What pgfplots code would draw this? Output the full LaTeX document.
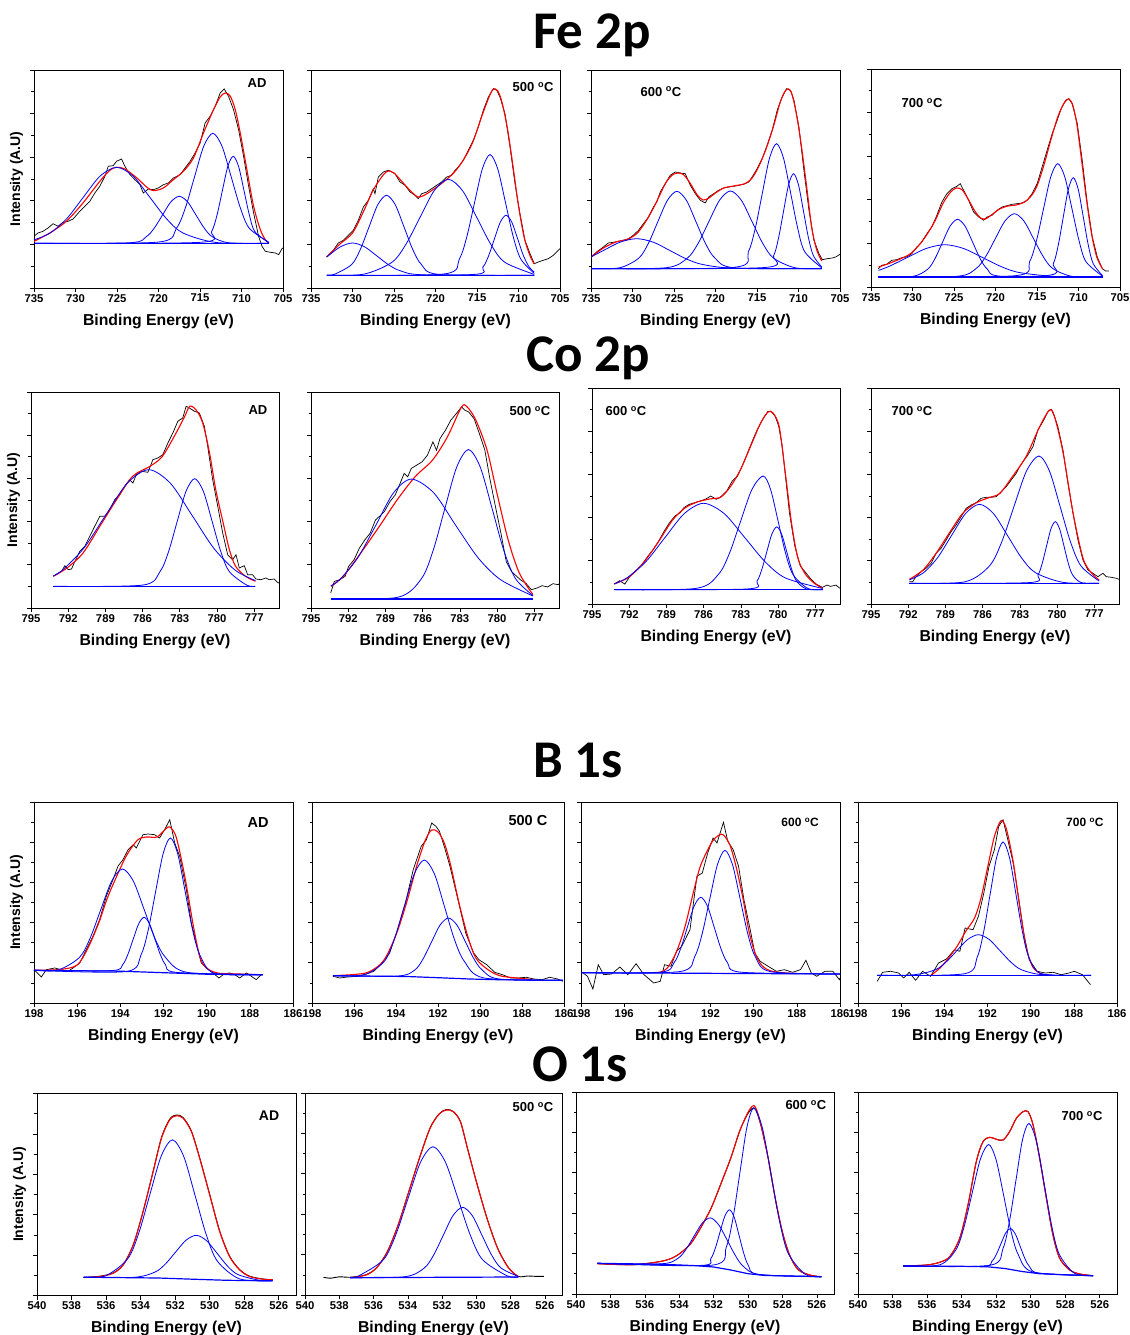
\documentclass[border=0pt]{standalone}
\usepackage{fontspec}
\setmainfont{Liberation Sans}
\newfontfamily\titlefont{Carlito}
\usepackage{pgfplots}
\pgfplotsset{compat=1.18}
\pgfplotsset{
  xps/.style={scale only axis, x dir=reverse, ymin=0, tick pos=left, tick align=outside,
    yticklabels={}, minor y tick num=1, major tick length=4pt, minor tick length=2.5pt,
    axis line style={line width=0.7pt, black}, every tick/.style={black, line width=0.6pt},
    xticklabel style={font=\bfseries\fontsize{11.3}{12}\selectfont, inner sep=2pt},
    /pgf/number format/assume math mode=true, /pgf/number format/1000 sep={},
    xlabel={Binding Energy (eV)},
    xlabel style={font=\bfseries\fontsize{15.8}{17}\selectfont, at={(axis description cs:0.5,0)}, anchor=center, yshift=-33pt},
    ylabel style={font=\bfseries\fontsize{14}{16}\selectfont, at={(axis description cs:0,0.5)}, anchor=center, yshift=17.5pt},
    clip=true, anchor=south west},
  fe/.style={xps, width=249pt, height=218pt, xmin=705, xmax=735, ymax=218, xtick={705,710,...,735}, ytick distance=43.6},
  co/.style={xps, width=248pt, height=216pt, xmin=775, xmax=795, ymax=216, xtick={777,780,...,795}, ytick distance=43.2},
  bo/.style={xps, width=259pt, height=201pt, xmin=186, xmax=198, ymax=201, xtick={186,188,...,198}, ytick distance=40.2},
  ox/.style={xps, width=258pt, height=202pt, xmin=525, xmax=540, ymax=202, xtick={526,528,...,540}, ytick distance=40.4},
  blk/.style={black, line width=0.7pt, no marks},
  blks/.style={black, line width=0.9pt, no marks, smooth},
  fit/.style={red, line width=1.1pt, smooth, no marks},
  pk/.style={blue, line width=0.8pt, smooth, no marks},
  bl/.style={blue, line width=1.2pt, no marks},
}
\tikzset{lbl/.style={font=\bfseries\fontsize{13}{15}\selectfont, inner sep=0pt},
  ttl/.style={font=\titlefont\bfseries\fontsize{53}{60}\selectfont, inner sep=0pt}}
\begin{document}
\begin{tikzpicture}
\useasboundingbox (0,0) rectangle (1129pt,1335pt);
\node[ttl] at (592pt,1300pt) {Fe 2p};
\node[ttl] at (588pt,977pt) {Co 2p};
\node[ttl] at (578pt,575pt) {B 1s};
\node[ttl] at (580pt,271pt) {O 1s};

% ---------------- Fe AD
\begin{axis}[fe, at={(34pt,1047pt)}, ylabel={Intensity (A.U)}]
\addplot[blk] coordinates {(735.0,51.7) (734.52,55.0) (733.91,56.7) (733.31,60.0) (732.70,64.3) (732.10,61.7) (731.50,65.7) (730.89,66.7) (730.29,69.0) (729.48,76.7) (728.88,81.7) (728.27,86.7) (727.67,95.0) (727.07,101.7) (726.46,111.7) (726.06,121.7) (725.46,122.3) (725.05,126.7) (724.45,129.0) (724.05,121.7) (723.44,113.3) (722.84,108.3) (722.23,103.3) (721.83,95.0) (721.23,99.0) (720.62,98.3) (720.02,100.0) (719.41,103.3) (718.81,105.0) (718.21,110.0) (717.40,113.3) (716.80,120.0) (716.19,126.7) (715.59,135.0) (714.98,145.0) (714.38,165.0) (713.78,171.7) (713.17,181.7) (712.57,195.0) (712.08,199.0) (711.56,191.7) (710.96,178.3) (710.35,158.3) (709.75,131.7) (709.14,101.7) (708.54,75.0) (707.94,51.7) (707.53,41.7) (707.13,36.7) (706.53,35.7) (705.92,35.0) (705.52,33.3) (705.12,39.3) (705.0,40.0)};
\addplot[fit] coordinates {(735,46.7) (733.1,55) (731.1,66.7) (729.1,85) (727.07,106.7) (725.86,117.7) (725.05,120.7) (724.05,119) (722.6,110) (721.4,100.7) (720.62,97.3) (719.41,100) (718.21,108.3) (717.0,116.7) (715.79,130) (714.58,155) (713.37,178.3) (712.57,191) (711.96,195) (711.35,191.7) (710.75,178.3) (710.15,155) (709.35,118.3) (708.54,81.7) (707.73,58.3) (707.13,48.3) (706.73,45.0)};
\addplot[bl] coordinates {(706.7,44.7) (735,44.7)};
\addplot[pk] coordinates {(706.7,44.7) (713.05,45.5) (717.05,55.0) (719.05,69.4) (721.05,90.8) (723.05,111.8) (725.05,120.7) (727.05,111.8) (729.05,90.8) (731.05,69.4) (733.05,55.0) (735,48.1)};
\addplot[pk] coordinates {(706.7,44.7) (711.5,45.2) (713.5,51.1) (714.5,60.0) (715.5,73.2) (716.5,86.2) (717.5,91.7) (718.5,86.2) (719.5,73.2) (720.5,60.0) (721.5,51.1) (723.5,45.2) (735,44.7)};
\addplot[pk] coordinates {(706.7,45.7) (709.05,59.6) (710.15,80.4) (711.25,111.4) (712.35,141.8) (713.45,154.7) (714.55,141.8) (715.65,111.4) (716.75,80.4) (717.85,59.6) (720.05,45.9) (735,44.7)};
\addplot[pk] coordinates {(706.7,45.3) (708.4,56.5) (709.05,72.9) (709.7,97.5) (710.35,121.5) (711.0,131.7) (711.65,121.5) (712.3,97.5) (712.95,72.9) (713.6,56.5) (714.9,45.7) (735,44.7)};
\node[lbl] at (rel axis cs:0.896,0.94) {AD};
\end{axis}

% ---------------- Fe 500
\begin{axis}[fe, at={(311pt,1047pt)}]
\addplot[blk] coordinates {(733.11,31.0) (732.31,37.7) (731.71,45.0) (731.10,47.7) (730.50,52.7) (729.90,57.7) (729.30,67.7) (728.69,81.0) (728.09,87.7) (727.49,99.3) (727.29,94.3) (726.89,111.0) (726.29,116.0) (725.68,117.7) (725.28,116.0) (724.88,114.3) (724.28,106.0) (723.67,102.7) (723.07,96.0) (722.47,92.7) (722.07,89.3) (721.67,94.3) (721.06,96.0) (720.46,99.3) (719.86,102.7) (719.26,106.0) (718.65,111.0) (718.05,112.7) (717.65,117.7) (717.25,121.0) (716.65,127.7) (716.04,137.7) (715.44,147.7) (714.84,161.0) (714.24,177.7) (713.63,191.0) (713.03,199.3) (712.63,197.7) (712.23,191.0) (711.63,174.3) (711.02,141.0) (710.42,104.3) (709.82,74.3) (709.22,47.7) (708.61,34.3) (708.09,24.3) (707.61,26.0) (707.01,27.7) (706.41,29.3) (705.80,32.7) (705.0,39.3)};
\addplot[fit] coordinates {(733.11,31) (731.5,44) (730,55) (728.7,76) (727.5,98) (726.3,113) (725.7,117) (725.0,115) (724,106) (723,97) (722.1,91) (721.3,93) (720,100) (718.6,109) (717.5,118) (716.5,130) (715.5,146) (714.5,170) (713.5,192) (713.0,199) (712.5,197) (712,186) (711.3,158) (710.6,118) (710,82) (709.3,50) (708.6,32) (708.1,24)};
\addplot[bl] coordinates {(708.1,12.7) (733.1,12.7)};
\addplot[pk] coordinates {(708.1,12.7) (721.3,13.1) (724.2,17.1) (725.65,23.2) (727.1,32.3) (728.55,41.2) (730.0,45.0) (731.45,41.2) (732.9,32.3) (733.1,30.9)};
\addplot[pk] coordinates {(708.1,12.7) (719.6,13.6) (721.7,23.5) (722.75,38.7) (723.8,61.2) (724.85,83.3) (725.9,92.7) (726.95,83.3) (728.0,61.2) (729.05,38.7) (730.1,23.5) (732.2,13.6) (733.1,12.9)};
\addplot[pk] coordinates {(708.1,13.6) (711.65,25.7) (713.35,43.9) (715.05,70.9) (716.75,97.4) (718.45,108.7) (720.15,97.4) (721.85,70.9) (723.55,43.9) (725.25,25.7) (728.65,13.8) (733.1,12.7)};
\addplot[pk] coordinates {(708.1,14.6) (709.73,29.0) (710.655,51.9) (711.58,85.9) (712.505,119.2) (713.43,133.4) (714.355,119.2) (715.28,85.9) (716.205,51.9) (717.13,29.0) (718.98,14.0) (733.1,12.7)};
\addplot[pk] coordinates {(708.1,15.8) (708.7,20.8) (709.4,32.2) (710.1,49.1) (710.8,65.7) (711.5,72.7) (712.2,65.7) (712.9,49.1) (713.6,32.2) (714.3,20.8) (715.7,13.4) (733.1,12.7)};
\node[lbl] at (rel axis cs:0.892,0.922) {500 \textsuperscript{o}C};
\end{axis}

% ---------------- Fe 600
\begin{axis}[fe, at={(591pt,1047pt)}]
\addplot[blk] coordinates {(735.0,31.0) (734.32,36.0) (733.51,41.0) (732.91,45.0) (732.30,45.7) (731.70,46.7) (731.09,47.7) (730.49,49.3) (729.89,52.7) (729.28,57.7) (728.68,64.3) (728.07,71.0) (727.47,81.0) (727.07,86.0) (726.66,96.0) (726.06,104.3) (725.46,112.7) (724.85,116.0) (724.25,115.0) (723.64,114.3) (723.04,102.7) (722.43,94.3) (721.83,87.7) (721.23,85.0) (720.82,91.0) (720.22,94.3) (719.62,97.7) (719.01,100.0) (718.41,101.0) (717.80,101.7) (717.20,102.7) (716.59,103.7) (715.99,106.0) (715.59,111.0) (714.98,119.3) (714.38,129.3) (713.78,142.7) (713.17,157.7) (712.57,177.7) (711.96,191.0) (711.44,199.3) (710.95,197.7) (710.55,187.7) (709.95,161.0) (709.35,117.7) (708.74,77.7) (708.14,47.7) (707.53,34.3) (707.13,28.3) (706.53,29.3) (705.92,30.0) (705.52,31.0) (705.0,33.7)};
\addplot[fit] coordinates {(735,31) (733.5,40) (732,46) (730.5,49) (729.3,56) (728,72) (727,88) (726,105) (725.2,113) (724.5,115) (723.8,113) (723,104) (722.2,93) (721.5,88) (720.8,90) (720,95) (719,100) (717.8,102) (716.6,104) (715.8,108) (715,118) (714,137) (713,162) (712.2,186) (711.6,197) (711.2,199) (710.8,194) (710.3,176) (709.7,145) (709.0,100) (708.4,60) (707.8,38) (707.2,27)};
\addplot[bl] coordinates {(707.2,19.3) (735,19.3)};
\addplot[pk] coordinates {(707.2,19.3) (717.5,19.6) (721.5,23.4) (723.5,29.0) (725.5,37.5) (727.5,45.8) (729.5,49.3) (731.5,45.8) (733.5,37.5) (735,31.0)};
\addplot[pk] coordinates {(707.2,19.3) (717.75,20.2) (720.05,29.8) (721.2,44.4) (722.35,66.2) (723.5,87.6) (724.65,96.7) (725.8,87.6) (726.95,66.2) (728.1,44.4) (729.25,29.8) (731.55,20.2) (735,19.3)};
\addplot[pk] coordinates {(707.2,19.3) (710.4,20.2) (713.0,29.8) (714.3,44.5) (715.6,66.4) (716.9,87.9) (718.2,97.0) (719.5,87.9) (720.8,66.4) (722.1,44.5) (723.4,29.8) (726.0,20.2) (735,19.3)};
\addplot[pk] coordinates {(707.2,20.2) (709.25,36.2) (710.1,59.9) (710.95,95.1) (711.8,129.6) (712.65,144.3) (713.5,129.6) (714.35,95.1) (715.2,59.9) (716.05,36.2) (717.75,20.7) (735,19.3)};
\addplot[pk] coordinates {(707.2,21.0) (708.2,32.2) (708.8,50.1) (709.4,76.9) (710.0,103.1) (710.6,114.3) (711.2,103.1) (711.8,76.9) (712.4,50.1) (713.0,32.2) (714.2,20.4) (735,19.3)};
\node[lbl] at (rel axis cs:0.281,0.9) {600 \textsuperscript{o}C};
\end{axis}

% ---------------- Fe 700
\begin{axis}[fe, at={(871pt,1048pt)}]
\addplot[blk] coordinates {(734.11,18.3) (733.71,21.7) (733.11,22.7) (732.50,26.7) (731.90,27.3) (731.29,29.3) (730.69,30.0) (730.09,33.3) (729.48,40.0) (728.88,45.0) (728.27,53.3) (727.67,60.0) (727.07,71.7) (726.46,85.0) (725.86,93.3) (725.25,98.3) (724.65,100.7) (724.25,103.3) (723.84,96.7) (723.24,86.7) (722.64,75.0) (722.03,70.0) (721.43,66.7) (721.03,70.0) (720.42,71.7) (719.82,76.7) (719.21,80.0) (718.61,81.3) (718.00,82.7) (717.40,83.3) (716.80,84.0) (716.19,86.7) (715.59,93.3) (714.98,103.3) (714.38,120.0) (713.78,136.7) (713.17,153.3) (712.57,166.7) (712.16,176.7) (711.56,186.7) (711.16,188.3) (710.76,183.3) (710.15,163.3) (709.55,126.7) (708.94,83.3) (708.34,50.0) (707.74,30.0) (707.13,18.3) (706.73,16.0) (706.33,16.0)};
\addplot[fit] coordinates {(734.1,20) (733,23) (731.5,28) (730.3,33) (729.3,41) (728.3,52) (727.3,66) (726.3,84) (725.4,95) (724.7,99) (724.0,97) (723.3,88) (722.5,76) (721.8,69) (721.2,68) (720.5,72) (719.5,78) (718.5,81) (717.5,82) (716.5,85) (715.7,91) (715,101) (714.2,121) (713.3,148) (712.5,170) (711.8,183) (711.2,188) (710.7,182) (710.2,163) (709.6,125) (709,85) (708.4,52) (707.8,30) (707.1,18)};
\addplot[bl] coordinates {(707.1,10) (734.1,10)};
\addplot[pk] coordinates {(707.1,10.0) (712.6,10.4) (717.1,14.4) (719.35,20.5) (721.6,29.6) (723.85,38.5) (726.1,42.3) (728.35,38.5) (730.6,29.6) (732.85,20.5) (734.1,16.6)};
\addplot[pk] coordinates {(707.1,10) (719.17,10.6) (720.97,17.8) (721.87,28.7) (722.77,45.0) (723.67,60.9) (724.57,67.7) (725.47,60.9) (726.37,45.0) (727.27,28.7) (728.17,17.8) (729.97,10.6) (734.1,10)};
\addplot[pk] coordinates {(707.1,10) (710.82,10.7) (713.12,18.6) (714.27,30.6) (715.42,48.4) (716.57,65.9) (717.72,73.3) (718.87,65.9) (720.02,48.4) (721.17,30.6) (722.32,18.6) (724.62,10.7) (734.1,10)};
\addplot[pk] coordinates {(707.1,10.8) (709.1,25.3) (709.95,46.8) (710.8,78.7) (711.65,110.0) (712.5,123.3) (713.35,110.0) (714.2,78.7) (715.05,46.8) (715.9,25.3) (717.6,11.3) (734.1,10)};
\addplot[pk] coordinates {(707.1,11.3) (708.23,23.4) (708.83,42.2) (709.43,70.2) (710.03,97.6) (710.63,109.3) (711.23,97.6) (711.83,70.2) (712.43,42.2) (713.03,23.4) (714.23,11.1) (734.1,10)};
\node[lbl] at (rel axis cs:0.205,0.844) {700 \textsuperscript{o}C};
\end{axis}

% ---------------- Co AD
\begin{axis}[co, at={(31pt,727pt)}, ylabel={Intensity (A.U)}]
\addplot[blk] coordinates {(793.21,31.7) (792.80,35.0) (792.54,36.7) (792.27,42.3) (792.00,38.3) (791.73,39.0) (791.46,46.7) (791.06,56.7) (790.66,61.7) (790.26,71.7) (789.86,81.7) (789.45,91.7) (789.05,91.7) (788.65,98.3) (788.25,108.3) (787.85,113.3) (787.45,121.7) (787.04,128.3) (786.78,125.0) (786.51,133.3) (786.11,136.7) (785.57,135.7) (785.17,148.3) (784.77,150.0) (784.37,153.3) (783.96,165.0) (783.56,175.0) (783.16,186.7) (782.76,190.0) (782.49,201.7) (782.22,200.0) (781.82,196.7) (781.42,195.0) (781.02,181.7) (780.75,161.7) (780.35,128.3) (779.94,101.7) (779.54,75.0) (779.14,53.3) (778.74,48.3) (778.47,53.3) (778.20,40.0) (777.80,42.3) (777.53,33.3) (777.13,33.3) (776.86,29.0) (776.46,28.3) (776.06,30.0) (775.79,28.3) (775.39,29.0) (775.12,25.7) (775.0,25.0)};
\addplot[fit] coordinates {(793.2,31.7) (792.1,40) (790.8,55) (789.45,81.7) (788.1,108.3) (786.8,131.7) (785.4,141.7) (784.4,151.7) (783.3,175) (782.6,191.7) (782.2,201.7) (781.7,198.3) (781.15,185) (780.6,155) (780.1,118.3) (779.5,85) (779.0,58.3) (778.5,41.7) (777.7,31.7) (776.9,26.7)};
\addplot[bl] coordinates {(776.9,21.7) (793.2,21.7)};
\addplot[pk] coordinates {(776.9,27.4) (778.5,37.5) (780.25,59.6) (782.0,92.4) (783.75,124.6) (785.5,138.3) (787.25,124.6) (789.0,92.4) (790.75,59.6) (792.5,37.5) (793.2,32.1)};
\addplot[pk] coordinates {(776.9,21.7) (777.6,22.9) (779.0,36.3) (779.7,56.6) (780.4,87.0) (781.1,116.7) (781.8,129.3) (782.5,116.7) (783.2,87.0) (783.9,56.6) (784.6,36.3) (786.0,22.9) (793.2,21.7)};
\node[lbl] at (rel axis cs:0.915,0.917) {AD};
\end{axis}

% ---------------- Co 500
\begin{axis}[co, at={(311pt,727pt)}]
\addplot[blk] coordinates {(793.41,15.0) (793.12,26.6) (792.69,28.2) (792.25,31.6) (791.97,41.5) (791.53,48.2) (791.10,59.8) (790.66,68.1) (790.23,74.8) (789.80,88.0) (789.36,93.0) (789.08,96.4) (788.64,106.3) (788.21,113.0) (787.92,121.3) (787.49,134.6) (787.20,131.2) (786.91,139.6) (786.47,142.9) (786.04,146.2) (785.61,152.8) (785.17,166.1) (784.88,157.8) (784.60,169.4) (784.16,177.7) (783.73,187.7) (783.29,194.3) (782.86,201.0) (782.57,197.6) (782.28,196.0) (781.85,189.3) (781.42,174.4) (780.98,157.8) (780.55,127.6) (780.12,101.1) (779.68,74.5) (779.25,46.3) (778.82,36.3) (778.38,31.3) (778.09,28.0) (777.66,24.6) (777.23,18.3) (776.79,19.9) (776.36,22.3) (775.92,21.0) (775.49,24.3) (775.06,23.3) (775.0,24.3)};
\addplot[fit] coordinates {(793.4,21.6) (792.4,31.6) (791.0,54.8) (789.5,81.4) (788.06,108) (786.6,131.3) (785.2,147.9) (784.0,171.1) (782.86,201) (782.4,201) (781.7,187.7) (780.8,157.8) (780.0,114.6) (779.1,68.1) (778.2,34.9) (777.1,13.3)};
\addplot[bl] coordinates {(777.1,9) (793.4,9)};
\addplot[pk] coordinates {(777.1,12.0) (779.7,28.2) (781.5,49.8) (783.3,82.1) (785.1,115.1) (786.9,128.9) (788.35,115.1) (789.8,82.1) (791.25,49.8) (792.7,28.2) (793.4,22.2)};
\addplot[pk] coordinates {(777.1,12.4) (778.5,29.2) (779.45,57.5) (780.4,99.7) (781.35,140.9) (782.3,158.5) (783.25,140.9) (784.2,99.7) (785.15,57.5) (786.1,29.2) (788.0,10.7) (793.4,9.0)};
\node[lbl] at (rel axis cs:0.883,0.912) {500 \textsuperscript{o}C};
\end{axis}

% ---------------- Co 600
\begin{axis}[co, at={(592pt,731pt)}]
\addplot[blk] coordinates {(793.21,19.9) (792.78,23.3) (792.35,19.9) (791.91,28.2) (791.48,33.2) (791.05,38.2) (790.47,48.2) (790.04,54.8) (789.61,63.1) (789.17,73.1) (788.74,81.4) (788.31,88.0) (787.88,91.4) (787.59,96.4) (787.15,99.7) (786.72,101.3) (786.29,103.0) (785.86,104.7) (785.42,108.0) (784.99,104.7) (784.70,106.3) (784.41,109.7) (784.13,113.0) (783.69,123.0) (783.26,127.9) (782.83,139.6) (782.40,152.9) (781.96,166.2) (781.67,174.5) (781.24,184.4) (780.81,192.7) (780.52,192.1) (780.23,187.8) (779.94,177.8) (779.66,157.8) (779.37,124.6) (779.08,91.4) (778.65,58.2) (778.21,38.2) (777.78,31.6) (777.35,24.9) (776.92,19.9) (776.42,16.6) (776.05,18.9) (775.76,17.6) (775.33,18.9) (775.0,15.6)};
\addplot[fit] coordinates {(793.2,20) (792,27) (790.8,42) (789.6,63) (788.5,84) (787.5,96) (786.5,102) (785.5,105) (784.6,107) (783.8,118) (783,135) (782.2,158) (781.4,181) (780.8,192) (780.4,191) (779.9,177) (779.4,130) (778.9,80) (778.4,46) (777.8,30) (777.1,21) (776.4,15.6)};
\addplot[bl] coordinates {(776.4,14.3) (793.2,14.3)};
\addplot[pk] coordinates {(776.4,15.5) (779.4,26.0) (781.05,42.4) (782.7,66.7) (784.35,90.5) (786.0,100.7) (787.55,90.5) (789.1,66.7) (790.65,42.4) (792.2,26.0) (793.2,20.2)};
\addplot[pk] coordinates {(776.4,14.3) (777.6,15.6) (778.8,29.7) (779.4,51.2) (780.0,83.3) (780.6,114.6) (781.2,128.0) (782.1,114.6) (783.0,83.3) (783.9,51.2) (784.8,29.7) (786.6,15.6) (793.2,14.3)};
\addplot[pk] coordinates {(776.4,14.3) (777.7,15.0) (778.5,22.8) (778.9,34.7) (779.3,52.4) (779.7,69.7) (780.1,77.1) (780.5,69.7) (780.9,52.4) (781.3,34.7) (781.7,22.8) (782.5,15.0) (793.2,14.3)};
\node[lbl] at (rel axis cs:0.137,0.894) {600 \textsuperscript{o}C};
\end{axis}

% ---------------- Co 700
\begin{axis}[co, at={(871pt,731pt)}]
\addplot[blk] coordinates {(791.90,22.3) (791.64,22.3) (791.37,27.3) (790.96,32.3) (790.56,35.7) (790.15,40.7) (789.75,50.7) (789.35,55.7) (788.94,64.0) (788.54,72.3) (788.14,79.0) (787.73,87.3) (787.33,95.7) (786.92,99.0) (786.52,101.3) (786.12,105.7) (785.71,106.7) (785.31,106.7) (784.91,107.3) (784.50,112.3) (784.10,117.3) (783.69,124.0) (783.29,130.7) (783.02,137.3) (782.75,142.3) (782.35,149.0) (781.94,157.3) (781.54,174.0) (781.14,182.3) (780.73,192.3) (780.46,194.7) (780.20,187.3) (779.93,177.3) (779.52,154.0) (779.12,120.7) (778.71,90.7) (778.31,64.0) (777.91,44.0) (777.50,34.0) (777.10,30.7) (776.70,27.3) (776.29,30.7) (776.02,27.3) (775.62,26.7) (775.22,25.7) (775.0,24.7)};
\addplot[fit] coordinates {(791.9,24.7) (790.8,34) (789.75,50.7) (788.7,70.7) (787.6,90.7) (786.5,101.3) (785.4,106.7) (784.6,110.7) (783.6,127.3) (782.5,147.3) (781.4,177.3) (780.6,194) (780.2,187.3) (779.5,150.7) (778.7,90.7) (777.9,45.7) (777.2,30.7) (776.6,24)};
\addplot[bl] coordinates {(776.6,20.7) (791.9,20.7)};
\addplot[pk] coordinates {(776.6,20.7) (779.5,21.6) (781.75,31.4) (782.875,46.4) (784.0,68.6) (785.125,90.4) (786.25,99.7) (787.375,90.4) (788.5,68.6) (789.625,46.4) (790.75,31.4) (791.9,24.1)};
\addplot[pk] coordinates {(776.6,22.9) (778.06,37.9) (778.91,62.0) (779.76,97.9) (780.61,133.0) (781.46,148.0) (782.46,133.0) (783.46,97.9) (784.46,62.0) (785.46,37.9) (787.46,22.1) (791.9,20.7)};
\addplot[pk] coordinates {(776.6,20.7) (778.04,21.4) (778.74,29.0) (779.09,40.7) (779.44,58.1) (779.79,75.1) (780.14,82.3) (780.49,75.1) (780.84,58.1) (781.19,40.7) (781.54,29.0) (782.24,21.4) (791.9,20.7)};
\node[lbl] at (rel axis cs:0.165,0.894) {700 \textsuperscript{o}C};
\end{axis}

% ---------------- B AD
\begin{axis}[bo, at={(34pt,332pt)}, ylabel={Intensity (A.U)}]
\addplot[blk] coordinates {(197.97,32.7) (197.66,26.0) (197.43,33.3) (197.04,35.0) (196.73,33.3) (196.42,31.7) (196.19,35.0) (195.88,40.0) (195.58,53.3) (195.27,66.7) (194.96,83.3) (194.65,106.7) (194.34,123.3) (194.11,136.7) (193.88,143.3) (193.64,153.3) (193.41,158.3) (193.26,155.0) (192.95,168.3) (192.72,169.0) (192.41,168.3) (192.18,165.0) (191.95,173.3) (191.71,183.3) (191.48,160.0) (191.25,146.7) (190.94,113.3) (190.71,80.0) (190.48,60.0) (190.25,40.0) (190.02,35.0) (189.71,30.0) (189.43,25.0) (189.17,29.3) (188.93,30.0) (188.70,28.3) (188.47,25.0) (188.16,30.0) (187.93,26.7) (187.70,23.3) (187.47,28.3)};
\addplot[fit] coordinates {(198,32.7) (196.8,33.5) (196.0,38) (195.5,55) (195.0,80) (194.6,105) (194.1,130) (193.7,148) (193.2,163) (192.8,166) (192.3,166) (191.9,174) (191.7,176) (191.4,165) (191.0,125) (190.6,75) (190.3,45) (190.0,35) (189.5,30) (188.5,29) (187.4,28.3)};
\addplot[bl] coordinates {(187.4,28.3) (190,28.8) (192,30.3) (194,31.8) (198,32.7)};
\addplot[pk] coordinates {(187.4,28.3) (190.9,30.6) (191.9,45.4) (192.4,64.8) (192.9,93.7) (193.4,122.0) (193.9,134.0) (194.4,122.0) (194.9,93.7) (195.4,64.8) (195.9,45.4) (196.9,32.9) (198,32.7)};
\addplot[pk] coordinates {(187.4,28.3) (191.4,30.6) (191.9,38.1) (192.15,48.6) (192.4,64.1) (192.65,79.2) (192.9,85.7) (193.15,79.2) (193.4,64.1) (193.65,48.6) (193.9,38.1) (194.4,32.4) (198,32.7)};
\addplot[pk] coordinates {(187.4,28.3) (189.64,29.7) (190.32,48.3) (190.66,73.8) (191.0,111.9) (191.34,149.1) (191.68,165.0) (192.02,149.1) (192.36,111.9) (192.7,73.8) (193.04,48.3) (193.72,31.5) (198,32.7)};
\node[lbl, font=\bfseries\fontsize{14.5}{16}\selectfont] at (rel axis cs:0.865,0.896) {AD};
\end{axis}

% ---------------- B 500
\begin{axis}[bo, width=252pt, at={(312pt,332pt)}]
\addplot[blk] coordinates {(197.0,26.7) (196.68,25.0) (196.3,26.0) (195.8,26.7) (195.43,29.0) (195.05,31.7) (194.68,40.0) (194.3,50.0) (193.93,73.3) (193.55,100.0) (193.18,133.3) (192.8,156.7) (192.55,163.3) (192.3,180.0) (192.1,176.7) (191.93,171.7) (191.68,155.0) (191.43,136.7) (191.05,103.3) (190.68,70.0) (190.3,50.0) (190.05,43.3) (189.68,38.3) (189.3,30.7) (188.93,28.3) (188.55,25.0) (188.18,25.0) (187.8,25.7) (187.43,24.0) (187.05,23.3) (186.68,25.7) (186.3,24.0) (186.05,21.7)};
\addplot[fit] coordinates {(197,27.3) (196,28.5) (195.3,31) (194.6,42) (194,68) (193.5,100) (193,138) (192.6,163) (192.3,173) (192.0,171) (191.7,160) (191.4,138) (191,100) (190.6,68) (190.2,45) (189.6,33) (189,27) (188,24.5) (187.5,23.5)};
\addplot[bl] coordinates {(186.05,22.7) (189,23.2) (190.5,24) (192,25.3) (193.5,26.5) (197,27.3)};
\addplot[pk] coordinates {(186.05,22.7) (189.8,25.0) (190.75,41.8) (191.225,64.0) (191.7,97.0) (192.175,129.3) (192.65,143.0) (193.125,129.3) (193.6,97.0) (194.075,64.0) (194.55,41.8) (195.5,28.3) (197,27.3)};
\addplot[pk] coordinates {(186.05,22.7) (189.1,24.0) (189.9,33.1) (190.3,44.5) (190.7,61.4) (191.1,78.0) (191.5,85.0) (191.9,78.0) (192.3,61.4) (192.7,44.5) (193.1,33.1) (193.9,27.0) (197,27.3)};
\node[lbl, font=\bfseries\fontsize{14.5}{16}\selectfont] at (rel axis cs:0.857,0.91) {500 C};
\end{axis}

% ---------------- B 600
\begin{axis}[bo, at={(581pt,332pt)}]
\addplot[blk] coordinates {(198.0,31.7) (197.7,26.7) (197.45,14.0) (197.2,38.3) (196.95,28.3) (196.58,29.0) (196.2,36.0) (195.83,28.3) (195.45,39.3) (195.08,28.3) (194.63,20.0) (194.33,21.7) (194.13,38.3) (193.83,36.7) (193.58,51.7) (193.33,56.7) (192.95,73.3) (192.63,126.7) (192.38,130.0) (192.13,150.0) (191.88,165.0) (191.7,160.0) (191.4,180.7) (191.2,161.7) (190.95,153.3) (190.7,136.7) (190.45,103.3) (190.13,70.0) (189.95,50.0) (189.7,41.7) (189.33,36.7) (188.95,31.7) (188.58,33.3) (188.2,30.7) (187.83,33.3) (187.58,42.7) (187.33,30.0) (187.08,26.7) (186.7,31.7) (186.33,31.7) (186.03,23.3) (186.0,25.0)};
\addplot[fit] coordinates {(194.6,30.5) (194.3,31) (194,35) (193.6,50) (193.2,75) (192.8,110) (192.5,135) (192.2,150) (191.9,162) (191.6,168) (191.4,168) (191.1,158) (190.8,135) (190.5,105) (190.2,70) (189.9,48) (189.6,37) (189.2,32) (188.5,30) (188.0,29.5)};
\addplot[bl] coordinates {(186,29.0) (198,30.3)};
\addplot[pk] coordinates {(186,29.0) (190.59,30.8) (191.21,40.2) (191.52,54.6) (191.83,75.9) (192.14,96.8) (192.45,105.7) (192.76,96.8) (193.07,75.9) (193.38,54.6) (193.69,40.2) (194.31,30.8) (198,30.3)};
\addplot[pk] coordinates {(186,29.0) (189.23,31.4) (189.93,46.6) (190.28,69.8) (190.63,104.4) (190.98,138.3) (191.33,152.7) (191.68,138.3) (192.03,104.4) (192.38,69.8) (192.73,46.6) (193.43,31.4) (198,30.3)};
\node[lbl, font=\bfseries\fontsize{12}{14}\selectfont] at (rel axis cs:0.846,0.9) {600 \textsuperscript{o}C};
\end{axis}

% ---------------- B 700
\begin{axis}[bo, at={(858pt,332pt)}]
\addplot[blk] coordinates {(197.11,21.7) (196.86,30.7) (196.49,31.7) (196.12,30.0) (195.88,25.0) (195.63,30.7) (195.33,22.7) (195.01,31.7) (194.64,26.7) (194.27,40.0) (193.9,44.0) (193.53,53.3) (193.28,51.7) (193.04,75.0) (192.67,73.3) (192.42,86.7) (192.17,110.0) (191.93,136.7) (191.68,153.3) (191.48,176.7) (191.28,183.3) (191.06,163.3) (190.81,140.0) (190.57,106.7) (190.32,70.0) (190.07,43.3) (189.7,31.7) (189.33,30.0) (188.96,30.7) (188.59,28.3) (188.22,30.0) (187.98,31.7) (187.6,28.3) (187.23,18.3)};
\addplot[fit] coordinates {(194.6,28) (194.2,35) (193.8,45) (193.4,57) (193.0,72) (192.6,85) (192.3,105) (192.0,135) (191.7,165) (191.45,180) (191.3,182) (191.1,172) (190.8,140) (190.5,95) (190.2,55) (189.9,36) (189.5,29) (189,27.7)};
\addplot[bl] coordinates {(187.2,27.7) (197.1,27.7)};
\addplot[pk] coordinates {(187.2,27.7) (189.42,28.2) (190.42,33.2) (190.92,40.9) (191.42,52.3) (191.92,63.5) (192.42,68.3) (192.92,63.5) (193.42,52.3) (193.92,40.9) (194.42,33.2) (195.42,28.2) (197.1,27.7)};
\addplot[pk] coordinates {(187.2,27.7) (189.48,29.2) (190.08,45.7) (190.38,71.0) (190.68,108.5) (190.98,145.3) (191.28,161.0) (191.58,145.3) (191.88,108.5) (192.18,71.0) (192.48,45.7) (193.08,29.2) (197.1,27.7)};
\node[lbl, font=\bfseries\fontsize{12}{14}\selectfont] at (rel axis cs:0.876,0.9) {700 \textsuperscript{o}C};
\end{axis}

% ---------------- O AD
\begin{axis}[ox, width=259pt, at={(37pt,39.5pt)}, ylabel={Intensity (A.U)}]
\addplot[blks] coordinates {(537.3,18.0) (536.35,19.3) (535.58,22.6) (535.0,31) (534.42,51) (533.85,84.5) (533.27,124.5) (532.79,158) (532.31,176.5) (531.92,180.5) (531.54,178) (531.06,164.5) (530.58,137.8) (530.0,101.2) (529.42,64.5) (528.85,39.5) (528.27,26) (527.69,19.3) (526.92,16.5) (526.35,15.8)};
\addplot[fit] coordinates {(537.3,18) (536.35,19) (535.58,22.3) (535.0,30.7) (534.42,50.7) (533.85,84) (533.27,124) (532.79,157.3) (532.31,175.7) (531.92,179.7) (531.54,177.3) (531.06,164) (530.58,137.3) (530.0,100.7) (529.42,64) (528.85,39) (528.27,25.7) (527.69,19) (526.92,16.3) (526.35,15.7)};
\addplot[bl] coordinates {(526.35,14.7) (529,15.2) (531,16.3) (533,17.5) (537.3,18.3)};
\addplot[pk] coordinates {(526.35,14.7) (528.25,16.5) (529.55,34.3) (530.2,60.9) (530.85,100.3) (531.5,139.0) (532.15,155.7) (532.8,139.7) (533.45,101.7) (534.1,62.7) (534.75,36.6) (536.05,19.5) (537.3,18.3)};
\addplot[pk] coordinates {(526.35,14.7) (527.17,15.4) (528.37,21.0) (528.97,29.5) (529.57,42.2) (530.17,54.7) (530.77,60.2) (531.37,55.3) (531.97,43.5) (532.57,31.4) (533.17,23.4) (534.37,18.2) (537.3,18.3)};
\node[lbl, font=\bfseries\fontsize{14}{16}\selectfont] at (rel axis cs:0.896,0.89) {AD};
\end{axis}

% ---------------- O 500
\begin{axis}[ox, width=257pt, at={(305pt,40pt)}]
\addplot[blks] coordinates {(538.92,17.7) (538.5,16.8) (538.0,18.2) (537.37,17.8) (536.43,20.3) (535.81,27.6) (535.19,43.6) (534.56,70.3) (533.94,103.6) (533.32,137) (532.7,167) (532.18,181) (531.76,185.4) (531.35,183.6) (530.93,173.6) (530.52,147) (530.0,113.6) (529.38,77) (528.76,47) (528.13,27.6) (527.55,18.6) (527.0,19.0) (526.5,18.6) (526.06,18.7)};
\addplot[fit] coordinates {(537.37,17.3) (536.43,20) (535.81,27.3) (535.19,43.3) (534.56,70) (533.94,103.3) (533.32,136.7) (532.7,166.7) (532.18,180.7) (531.76,185) (531.35,183.3) (530.93,173.3) (530.52,146.7) (530.0,113.3) (529.38,76.7) (528.76,46.7) (528.13,27.3) (527.55,18.3)};
\addplot[bl] coordinates {(527.55,18.0) (537.37,17.3)};
\addplot[pk] coordinates {(527.55,18.0) (528.18,19.0) (529.63,35.2) (530.355,60.0) (531.08,96.8) (531.805,132.9) (532.53,148.3) (533.255,132.9) (533.98,96.8) (534.705,60.0) (535.43,35.2) (536.88,19.0) (537.37,17.3)};
\addplot[pk] coordinates {(527.55,18.5) (528.56,27.0) (529.12,40.3) (529.68,60.1) (530.24,79.5) (530.8,87.7) (531.36,79.5) (531.92,60.1) (532.48,40.3) (533.04,27.0) (534.16,18.3) (537.37,17.3)};
\node[lbl] at (rel axis cs:0.887,0.93) {500 \textsuperscript{o}C};
\end{axis}

% ---------------- O 600
\begin{axis}[ox, at={(576pt,41pt)}]
\addplot[blks] coordinates {(538.76,30.3) (536.69,29.3) (535.04,32.7) (534.21,37.7) (533.38,49.3) (532.76,66) (532.14,86) (531.52,112.7) (531.0,136) (530.49,162.7) (530.07,178.5) (529.76,185.5) (529.56,184.5) (529.25,168.5) (528.83,136) (528.42,96) (528.01,62.7) (527.59,39.3) (527.08,24.3) (526.35,18.7) (525.73,17.3)};
\addplot[fit] coordinates {(538.76,30.3) (536.69,29.3) (535.04,32.7) (534.21,37.7) (533.38,49.3) (532.76,66) (532.14,86) (531.52,112.7) (531.0,136) (530.49,162.7) (530.07,179.3) (529.76,187.7) (529.56,186.7) (529.25,169.3) (528.83,136) (528.42,96) (528.01,62.7) (527.59,39.3) (527.08,24.3) (526.35,18.7) (525.73,17.3)};
\addplot[bl] coordinates {(525.73,17.3) (529,18.5) (530,20.3) (531,24) (532,27) (533,28.3) (535,29.7) (538.76,30.7)};
\addplot[pk] coordinates {(525.73,17.3) (529.33,19.5) (530.28,27.8) (530.755,39.1) (531.23,54.5) (531.705,69.2) (532.18,76.1) (532.655,71.0) (533.13,58.1) (533.605,44.6) (534.08,35.6) (535.03,30.2) (538.76,30.7)};
\addplot[pk] coordinates {(525.73,17.3) (529.42,19.5) (529.97,28.3) (530.245,40.6) (530.52,58.6) (530.795,76.4) (531.07,84.2) (531.345,78.0) (531.62,62.3) (531.895,46.1) (532.17,35.2) (532.72,28.6) (538.76,30.7)};
\addplot[pk] coordinates {(525.73,17.3) (526.66,19.5) (527.66,40.5) (528.16,72.3) (528.66,119.4) (529.16,165.9) (529.66,186.1) (530.06,167.1) (530.46,122.6) (530.86,77.2) (531.26,47.1) (532.06,28.9) (538.76,30.7)};
\node[lbl] at (rel axis cs:0.891,0.936) {600 \textsuperscript{o}C};
\end{axis}

% ---------------- O 700
\begin{axis}[ox, width=259pt, at={(858pt,41pt)}]
\addplot[blks] coordinates {(537.39,28) (536.04,29) (535.27,31.7) (534.69,37.3) (534.11,55.7) (533.63,89) (533.15,132.3) (532.76,152.3) (532.37,156.7) (531.99,154.7) (531.6,154) (531.22,162.3) (530.83,175.7) (530.44,182.3) (530.15,182.3) (529.86,169) (529.48,135.7) (529.09,95.7) (528.71,59) (528.32,35.7) (527.74,24) (527.16,20) (526.39,18.3)};
\addplot[fit] coordinates {(537.39,28) (536.04,29) (535.27,31.7) (534.69,37.3) (534.11,55.7) (533.63,89) (533.15,132.3) (532.76,152.3) (532.37,156.7) (531.99,154.7) (531.6,154) (531.22,162.3) (530.83,175.7) (530.44,182.3) (530.15,182.3) (529.86,169) (529.48,135.7) (529.09,95.7) (528.71,59) (528.32,35.7) (527.74,24) (527.16,20) (526.39,18.3)};
\addplot[bl] coordinates {(526.39,18.3) (528,19.2) (529.5,20.3) (530.5,22.5) (531.5,25.5) (532.5,27.2) (534,27.7) (537.39,28)};
\addplot[pk] coordinates {(526.39,18.3) (529.88,22.0) (530.73,39.8) (531.155,64.1) (531.58,99.9) (532.005,134.4) (532.43,149.5) (532.905,135.3) (533.38,101.6) (533.855,67.2) (534.33,44.2) (535.28,29.1) (537.39,28)};
\addplot[pk] coordinates {(526.39,18.3) (529.51,20.8) (530.06,27.2) (530.335,35.4) (530.61,47.8) (530.885,59.9) (531.16,65.4) (531.435,61.4) (531.71,50.8) (531.985,39.7) (532.26,32.3) (532.81,27.7) (537.39,28)};
\addplot[pk] coordinates {(526.39,18.3) (527.46,20.7) (528.34,39.6) (528.78,68.0) (529.22,110.2) (529.66,152.2) (530.1,170.6) (530.475,154.1) (530.85,114.0) (531.225,73.0) (531.6,45.7) (532.35,28.7) (537.39,28)};
\node[lbl] at (rel axis cs:0.865,0.88) {700 \textsuperscript{o}C};
\end{axis}
\end{tikzpicture}
\end{document}
